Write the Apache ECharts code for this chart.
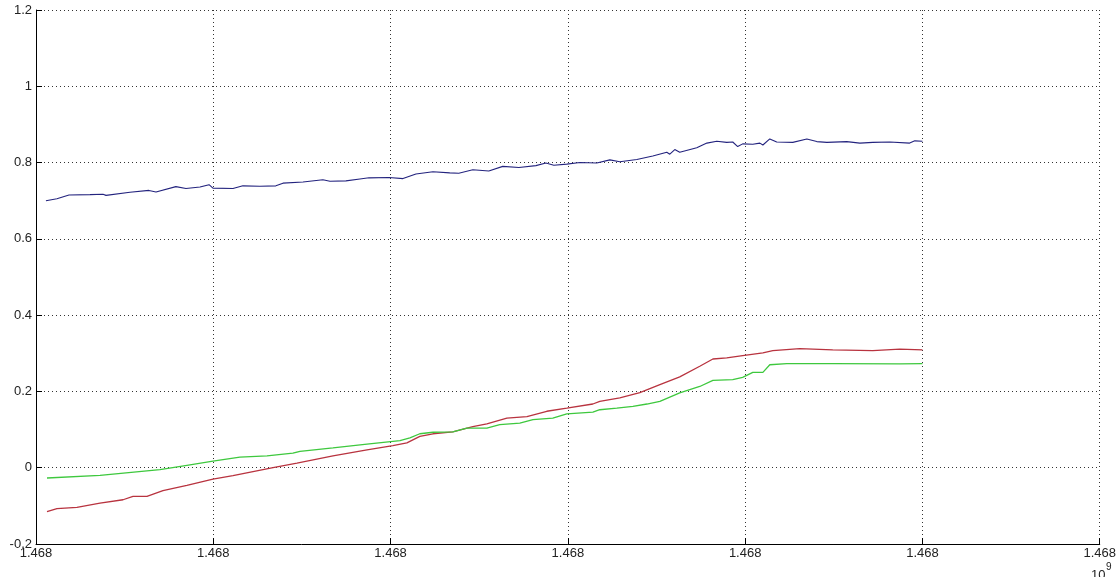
<!DOCTYPE html>
<html>
<head>
<meta charset="utf-8">
<script src="https://cdn.jsdelivr.net/npm/echarts@6/dist/echarts.min.js"></script>
<style>html,body{margin:0;padding:0;background:#fff;}#c{width:1119px;height:577px;}</style>
</head>
<body>
<div id="c"></div>
<script>
// x positions are offsets in seconds from the first tick (axis labels show 1.468 ×10^9)
var xTickLabels = ['1.468','1.468','1.468','1.468','1.468','1.468','1.468'];
var yTicks = [-0.2, 0, 0.2, 0.4, 0.6, 0.8, 1, 1.2];

var blueX = [56,118,186,305,378,395,530,637,677,789,846,925,976,998,1111,1167,1263,1353,1393,1506,1618,1658,1748,1827,1878,1991,2070,2143,2239,2334,2385,2464,2554,2633,2724,2820,2876,2921,2994,3068,3163,3237,3293,3389,3479,3558,3575,3603,3631,3727,3784,3840,3896,3930,3958,3986,4043,4083,4100,4139,4178,4269,4348,4404,4461,4573,4647,4720,4816,4928,4957,5000];
var blueY = [0.700,0.705,0.715,0.716,0.717,0.714,0.722,0.727,0.723,0.737,0.732,0.736,0.742,0.733,0.732,0.739,0.738,0.739,0.746,0.749,0.755,0.751,0.752,0.757,0.760,0.761,0.758,0.770,0.776,0.773,0.772,0.781,0.778,0.790,0.787,0.792,0.799,0.793,0.796,0.800,0.799,0.807,0.802,0.808,0.817,0.827,0.822,0.834,0.827,0.839,0.851,0.856,0.853,0.854,0.842,0.849,0.848,0.851,0.846,0.862,0.854,0.853,0.862,0.855,0.853,0.855,0.851,0.853,0.854,0.851,0.857,0.856];

var redX = [62,118,231,361,491,547,626,716,851,998,1111,1224,1337,1472,1675,1867,2013,2092,2165,2239,2351,2464,2543,2656,2769,2881,2994,3141,3180,3293,3406,3519,3631,3744,3818,3896,3986,4100,4156,4308,4494,4720,4872,5000];
var redY = [-0.115,-0.107,-0.104,-0.093,-0.084,-0.075,-0.075,-0.060,-0.046,-0.030,-0.021,-0.010,0.000,0.012,0.031,0.047,0.058,0.065,0.082,0.089,0.094,0.108,0.115,0.130,0.134,0.148,0.156,0.167,0.174,0.183,0.197,0.218,0.238,0.266,0.285,0.288,0.294,0.301,0.307,0.312,0.309,0.307,0.311,0.309];

var greenX = [62,361,699,851,998,1150,1303,1449,1489,1675,1867,2053,2109,2165,2239,2351,2430,2543,2616,2729,2803,2915,2994,3141,3180,3276,3367,3446,3519,3631,3744,3818,3930,3986,4043,4100,4139,4235,4494,4872,5000];
var greenY = [-0.027,-0.020,-0.005,0.006,0.017,0.028,0.031,0.038,0.043,0.052,0.062,0.071,0.078,0.089,0.093,0.094,0.104,0.104,0.113,0.117,0.126,0.130,0.141,0.146,0.152,0.156,0.161,0.167,0.174,0.196,0.213,0.229,0.231,0.237,0.250,0.250,0.270,0.273,0.273,0.272,0.273];

function pairs(xs, ys){ return xs.map(function(x,i){ return [x, ys[i]]; }); }

var FONT = 'Liberation Sans, Arial, sans-serif';
var chart = echarts.init(document.getElementById('c'), null, {renderer:'canvas'});
chart.setOption({
  animation:false,
  backgroundColor:'#ffffff',
  grid:{left:36, right:19, top:10, bottom:33, containLabel:false},
  xAxis:{
    type:'value', min:0, max:6000, interval:1000,
    axisLine:{show:true, onZero:false, lineStyle:{color:'#000', width:1}},
    axisTick:{show:true, inside:true, length:6, lineStyle:{color:'#000'}},
    axisLabel:{color:'#222', fontFamily:FONT, fontSize:13, margin:3,
      formatter:function(v){ return xTickLabels[Math.round(v/1000)]; }},
    splitLine:{show:true, lineStyle:{color:'#333', type:[1,3], width:1}}
  },
  yAxis:{
    type:'value', min:yTicks[0], max:yTicks[yTicks.length-1], interval:0.2,
    axisLine:{show:true, onZero:false, lineStyle:{color:'#000', width:1}},
    axisTick:{show:true, inside:true, length:6, lineStyle:{color:'#000'}},
    axisLabel:{color:'#222', fontFamily:FONT, fontSize:13, margin:4,
      formatter:function(v){ var r = Math.round(v*10)/10; return String(r); }},
    splitLine:{show:true, lineStyle:{color:'#333', type:[1,3], width:1}}
  },
  series:[
    {type:'line', data:pairs(blueX, blueY), showSymbol:false, lineStyle:{color:'#23237e', width:1.1}, itemStyle:{color:'#23237e'}},
    {type:'line', data:pairs(redX, redY), showSymbol:false, lineStyle:{color:'#b8333f', width:1.3}, itemStyle:{color:'#b8333f'}},
    {type:'line', data:pairs(greenX, greenY), showSymbol:false, lineStyle:{color:'#3ec83e', width:1.3}, itemStyle:{color:'#3ec83e'}}
  ],
  graphic:[
    {type:'text', x:1091, y:569, style:{text:'10', fontFamily:FONT, fontSize:13, fill:'#222'}},
    {type:'text', x:1106, y:562, style:{text:'9', fontFamily:FONT, fontSize:10, fill:'#222'}}
  ]
});
</script>
</body>
</html>
